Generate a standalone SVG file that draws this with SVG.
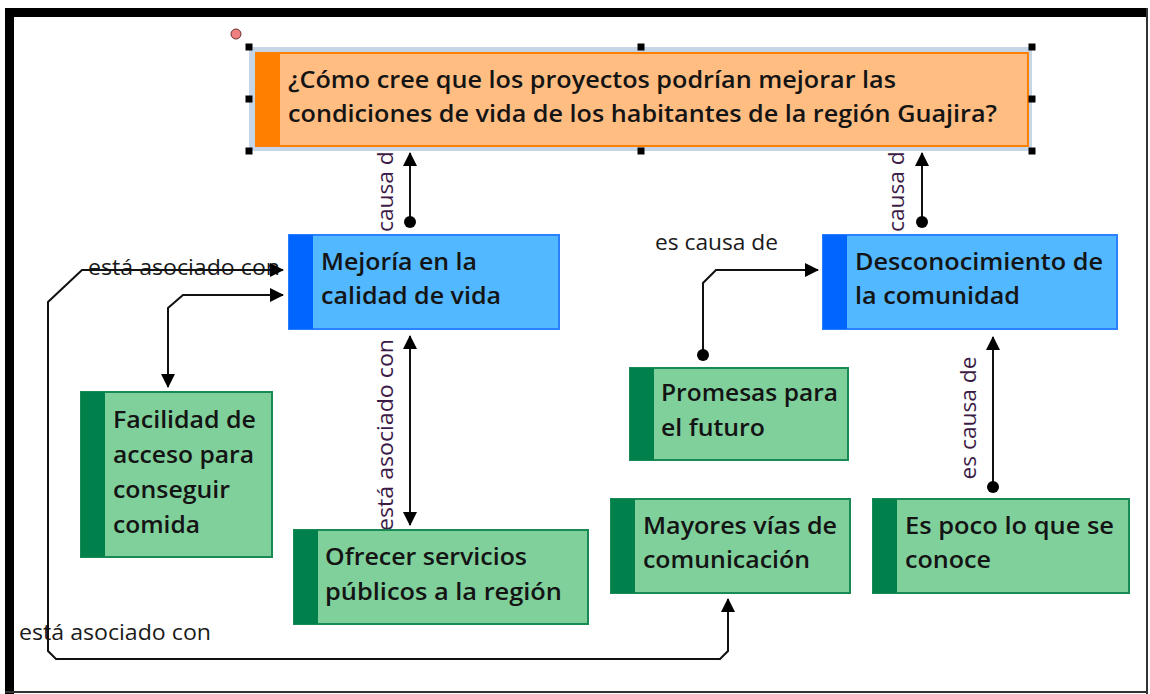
<svg xmlns="http://www.w3.org/2000/svg" width="1150" height="694" viewBox="0 0 1150 694">
<defs>
<style>
.nt{font-family:"Open Sans","Liberation Sans",sans-serif;font-weight:600;font-size:23px;fill:#141414}
.lb{font-family:"Open Sans","Liberation Sans",sans-serif;font-size:21px;fill:#1a1a1a}
.vl{font-family:"Open Sans","Liberation Sans",sans-serif;font-size:21px;fill:#3c1a46;text-anchor:middle}
.ln{fill:none;stroke:#111;stroke-width:2}
.orange{fill:#ffbd82;stroke:#ff8000;stroke-width:2}
.obar{fill:#ff8000}
.blue{fill:#52b8ff;stroke:#2a80ff;stroke-width:2}
.bbar{fill:#0066ff}
.green{fill:#80d09c;stroke:#1a8a55;stroke-width:2}
.gbar{fill:#00804a}
.hd{fill:#000}
</style>
<marker id="arr" viewBox="0 0 14 14" refX="13" refY="7" markerWidth="14" markerHeight="14" markerUnits="userSpaceOnUse" orient="auto-start-reverse">
<path d="M0,0 L14,7 L0,14 Z" fill="#000"/>
</marker>
<marker id="dot" viewBox="0 0 12 12" refX="6" refY="6" markerWidth="12" markerHeight="12" markerUnits="userSpaceOnUse">
<circle cx="6" cy="6" r="6" fill="#000"/>
</marker>
</defs>
<rect width="1150" height="694" fill="#fff"/>
<!-- frame -->
<rect x="5" y="8" width="1142" height="9" fill="#000"/>
<rect x="5" y="8" width="9" height="686" fill="#000"/>
<rect x="1146" y="8" width="2" height="686" fill="#333"/>
<rect x="5" y="691" width="1143" height="2" fill="#333"/>

<!-- labels (behind nodes) -->
<g id="labels">
<text class="vl" transform="translate(393,200) rotate(-90)" textLength="123" lengthAdjust="spacingAndGlyphs">es causa de</text>
<text class="vl" transform="translate(904,200) rotate(-90)" textLength="123" lengthAdjust="spacingAndGlyphs">es causa de</text>
<text class="vl" transform="translate(393,435) rotate(-90)" textLength="192" lengthAdjust="spacingAndGlyphs">está asociado con</text>
<text class="vl" transform="translate(976,418) rotate(-90)" textLength="123" lengthAdjust="spacingAndGlyphs">es causa de</text>
<text class="lb" x="655" y="250" textLength="123" lengthAdjust="spacingAndGlyphs">es causa de</text>
<text class="lb" x="88" y="275" textLength="192" lengthAdjust="spacingAndGlyphs">está asociado con</text>
<text class="lb" x="19" y="640" textLength="192" lengthAdjust="spacingAndGlyphs">está asociado con</text>
</g>

<g id="connectors">
<path class="ln" d="M410,222 L410,153" marker-start="url(#dot)" marker-end="url(#arr)"/>
<path class="ln" d="M922,222 L922,153" marker-start="url(#dot)" marker-end="url(#arr)"/>
<path class="ln" d="M410,336 L410,525" marker-start="url(#arr)" marker-end="url(#arr)"/>
<path class="ln" d="M993,487 L993,337" marker-start="url(#dot)" marker-end="url(#arr)"/>
<path class="ln" d="M703,355 L703,283 L716,270 L818,270" marker-start="url(#dot)" marker-end="url(#arr)"/>
<path class="ln" d="M283,295 L183,295 L168,308 L168,387" marker-start="url(#arr)" marker-end="url(#arr)"/>
<path class="ln" d="M283,270 L82,270 L48,302 L48,651 L56,659 L720,659 L728,651 L728,599" marker-start="url(#arr)" marker-end="url(#arr)"/>
</g>

<g id="n-top">
<rect x="249" y="47" width="783" height="104" fill="#c6d6e7"/>
<rect x="256" y="53" width="772" height="93" class="orange"/>
<rect x="256" y="53" width="24" height="93" class="obar"/>
<text class="nt" x="288" y="88" textLength="608" lengthAdjust="spacingAndGlyphs">¿Cómo cree que los proyectos podrían mejorar las</text>
<text class="nt" x="288" y="122" textLength="709" lengthAdjust="spacingAndGlyphs">condiciones de vida de los habitantes de la región Guajira?</text>
<g class="hd">
<rect x="245.5" y="43.5" width="7" height="7"/><rect x="637.5" y="43.5" width="7" height="7"/><rect x="1028.5" y="43.5" width="7" height="7"/>
<rect x="245.5" y="95.5" width="7" height="7"/><rect x="1028.5" y="95.5" width="7" height="7"/>
<rect x="245.5" y="147.5" width="7" height="7"/><rect x="637.5" y="147.5" width="7" height="7"/><rect x="1028.5" y="147.5" width="7" height="7"/>
</g>
<circle cx="236" cy="34" r="5" fill="#f08080" stroke="#6a3030" stroke-width="1"/>
</g>

<g id="n-mejoria">
<rect x="289" y="235" width="270" height="94" class="blue"/>
<rect x="289" y="235" width="24" height="94" class="bbar"/>
<text class="nt" x="321" y="270" textLength="156" lengthAdjust="spacingAndGlyphs">Mejoría en la</text>
<text class="nt" x="321" y="304" textLength="180" lengthAdjust="spacingAndGlyphs">calidad de vida</text>
</g>

<g id="n-desconocimiento">
<rect x="823" y="235" width="294" height="94" class="blue"/>
<rect x="823" y="235" width="24" height="94" class="bbar"/>
<text class="nt" x="855" y="270" textLength="248" lengthAdjust="spacingAndGlyphs">Desconocimiento de</text>
<text class="nt" x="855" y="304" textLength="165" lengthAdjust="spacingAndGlyphs">la comunidad</text>
</g>

<g id="n-facilidad">
<rect x="81" y="392" width="191" height="165" class="green"/>
<rect x="81" y="392" width="24" height="165" class="gbar"/>
<text class="nt" x="113" y="428" textLength="143" lengthAdjust="spacingAndGlyphs">Facilidad de</text>
<text class="nt" x="113" y="463" textLength="141" lengthAdjust="spacingAndGlyphs">acceso para</text>
<text class="nt" x="113" y="498" textLength="117" lengthAdjust="spacingAndGlyphs">conseguir</text>
<text class="nt" x="113" y="533" textLength="87" lengthAdjust="spacingAndGlyphs">comida</text>
</g>

<g id="n-ofrecer">
<rect x="294" y="530" width="294" height="94" class="green"/>
<rect x="294" y="530" width="24" height="94" class="gbar"/>
<text class="nt" x="325" y="565" textLength="202" lengthAdjust="spacingAndGlyphs">Ofrecer servicios</text>
<text class="nt" x="325" y="600" textLength="237" lengthAdjust="spacingAndGlyphs">públicos a la región</text>
</g>

<g id="n-promesas">
<rect x="630" y="368" width="218" height="92" class="green"/>
<rect x="630" y="368" width="24" height="92" class="gbar"/>
<text class="nt" x="661" y="401" textLength="177" lengthAdjust="spacingAndGlyphs">Promesas para</text>
<text class="nt" x="661" y="436" textLength="104" lengthAdjust="spacingAndGlyphs">el futuro</text>
</g>

<g id="n-mayores">
<rect x="611" y="499" width="239" height="94" class="green"/>
<rect x="611" y="499" width="24" height="94" class="gbar"/>
<text class="nt" x="643" y="534" textLength="194" lengthAdjust="spacingAndGlyphs">Mayores vías de</text>
<text class="nt" x="643" y="568" textLength="167" lengthAdjust="spacingAndGlyphs">comunicación</text>
</g>

<g id="n-espoco">
<rect x="873" y="499" width="256" height="94" class="green"/>
<rect x="873" y="499" width="24" height="94" class="gbar"/>
<text class="nt" x="905" y="534" textLength="209" lengthAdjust="spacingAndGlyphs">Es poco lo que se</text>
<text class="nt" x="905" y="568" textLength="86" lengthAdjust="spacingAndGlyphs">conoce</text>
</g>
</svg>
